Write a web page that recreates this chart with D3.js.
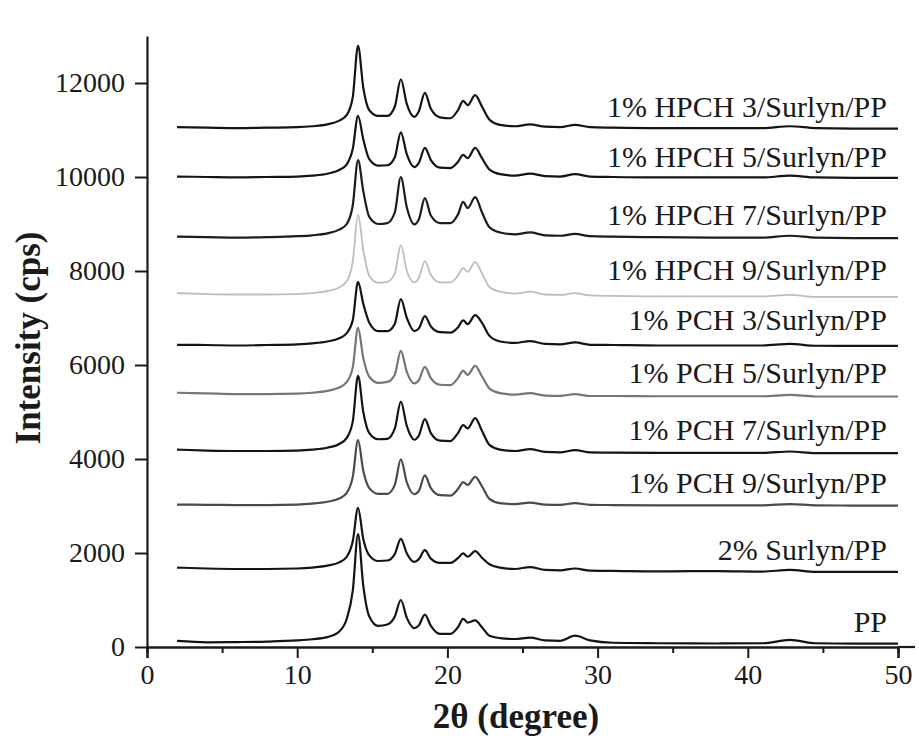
<!DOCTYPE html>
<html>
<head>
<meta charset="utf-8">
<script src="https://cdn.jsdelivr.net/npm/d3@7"></script>
<style>
  html, body { margin: 0; padding: 0; background: #fff; }
  svg { display: block; }
  text { font-family: "Liberation Serif", "Times New Roman", serif; fill: #1a1a1a; }
</style>
</head>
<body>
<svg id="chart" width="919" height="738"></svg>
<script>
// ---- data ----
const twoTheta = [2, 4, 6, 8, 10, 11, 12, 12.8, 13.3, 13.7, 14.05, 14.4, 14.8, 15.4, 16.0, 16.5, 16.9, 17.3, 17.8, 18.1, 18.5, 18.9, 19.5, 20.2, 20.7, 21.05, 21.35, 21.85, 22.3, 22.8, 23.5, 24.5, 25.5, 26.5, 27.5, 28.5, 29.5, 31, 34, 38, 41, 42.8, 44.5, 47, 50];

const seriesNames = ["1% HPCH 3/Surlyn/PP", "1% HPCH 5/Surlyn/PP", "1% HPCH 7/Surlyn/PP", "1% HPCH 9/Surlyn/PP", "1% PCH 3/Surlyn/PP", "1% PCH 5/Surlyn/PP", "1% PCH 7/Surlyn/PP", "1% PCH 9/Surlyn/PP", "2% Surlyn/PP", "PP"];

const hpch3 = [11060, 11050, 11040, 11050, 11060, 11080, 11120, 11200, 11320, 11700, 12790, 11900, 11420, 11300, 11300, 11500, 12080, 11550, 11280, 11400, 11790, 11450, 11270, 11250, 11420, 11620, 11530, 11740, 11500, 11220, 11110, 11080, 11120, 11070, 11060, 11110, 11060, 11050, 11040, 11040, 11040, 11080, 11040, 11030, 11030];
const hpch5 = [10010, 10000, 9990, 10000, 10010, 10030, 10070, 10150, 10270, 10600, 11300, 10800, 10380, 10240, 10250, 10420, 10950, 10480, 10210, 10300, 10620, 10360, 10200, 10190, 10320, 10470, 10400, 10620, 10400, 10160, 10060, 10030, 10070, 10020, 10010, 10060, 10010, 10000, 9990, 9990, 9990, 10030, 9990, 9980, 9980];
const hpch7 = [8730, 8720, 8710, 8720, 8740, 8760, 8800, 8880, 9000, 9400, 10360, 9700, 9150, 9000, 9020, 9250, 10000, 9350, 8990, 9100, 9550, 9180, 9020, 9020, 9200, 9470, 9340, 9570, 9250, 8930, 8820, 8780, 8820, 8760, 8750, 8790, 8740, 8730, 8720, 8710, 8710, 8750, 8710, 8700, 8700];
const hpch9 = [7530, 7510, 7500, 7500, 7510, 7530, 7570, 7650, 7780, 8200, 9200, 8450, 7900, 7750, 7770, 7950, 8550, 8000, 7760, 7850, 8210, 7920, 7760, 7760, 7900, 8060, 7980, 8190, 7950, 7660, 7560, 7520, 7560, 7500, 7490, 7530, 7480, 7470, 7460, 7460, 7460, 7490, 7450, 7450, 7450];
const pch3 = [6430, 6425, 6415, 6425, 6440, 6460, 6500, 6570, 6680, 6950, 7770, 7300, 6900, 6720, 6720, 6880, 7400, 7000, 6720, 6780, 7040, 6820, 6700, 6690, 6800, 6950, 6870, 7060, 6900, 6620, 6500, 6470, 6510, 6450, 6440, 6480, 6430, 6425, 6415, 6415, 6415, 6450, 6410, 6405, 6405];
const pch5 = [5410, 5395, 5380, 5380, 5390, 5410, 5450, 5520, 5640, 5950, 6790, 6150, 5750, 5620, 5640, 5800, 6300, 5850, 5610, 5680, 5960, 5720, 5580, 5570, 5720, 5880, 5790, 5980, 5760, 5500, 5400, 5370, 5400, 5350, 5345, 5380, 5340, 5340, 5335, 5335, 5335, 5365, 5330, 5330, 5330];
const pch7 = [4200, 4180, 4170, 4170, 4180, 4200, 4240, 4320, 4450, 4800, 5770, 5000, 4550, 4420, 4430, 4650, 5220, 4700, 4410, 4500, 4850, 4550, 4390, 4380, 4550, 4720, 4650, 4870, 4600, 4300, 4200, 4170, 4210, 4150, 4140, 4190, 4140, 4135, 4130, 4130, 4130, 4160, 4125, 4125, 4125];
const pch9 = [3030, 3025, 3020, 3020, 3030, 3050, 3090, 3160, 3280, 3620, 4400, 3750, 3380, 3260, 3260, 3450, 3990, 3500, 3250, 3320, 3650, 3380, 3230, 3220, 3360, 3510, 3450, 3620, 3420, 3150, 3060, 3040, 3070, 3030, 3025, 3060, 3025, 3020, 3015, 3015, 3015, 3040, 3015, 3010, 3010];
const surlyn2 = [1690, 1670, 1660, 1660, 1670, 1690, 1730, 1800, 1920, 2250, 2960, 2300, 1950, 1830, 1840, 1980, 2300, 1990, 1810, 1870, 2060, 1880, 1790, 1790, 1890, 1990, 1920, 2040, 1900, 1760, 1690, 1660, 1700, 1640, 1630, 1670, 1625, 1620, 1610, 1615, 1605, 1640, 1600, 1600, 1600];
const pp = [130, 100, 105, 115, 140, 165, 210, 330, 600, 1200, 2400, 1300, 650, 450, 480, 650, 1000, 620, 400, 460, 690, 450, 280, 280, 420, 600, 520, 565, 420, 240, 190, 170, 200, 140, 130, 240, 140, 90, 80, 75, 80, 150, 80, 70, 70];

const seriesValues = [hpch3, hpch5, hpch7, hpch9, pch3, pch5, pch7, pch9, surlyn2, pp];
const seriesColors = ["#141414", "#141414", "#1c1c1c", "#bdbdbd", "#141414", "#767676", "#141414", "#4a4a4a", "#141414", "#141414"];
const labelValues = [11277, 10213, 8979, 7809, 6745, 5617, 4404, 3277, 1851, 319];

const xTicksMajor = [0, 10, 20, 30, 40, 50];
const xTicksMinor = [5, 15, 25, 35, 45];
const yTicks = [0, 2000, 4000, 6000, 8000, 10000, 12000];

// ---- layout ----
const svg = d3.select("#chart");
const x = d3.scaleLinear().domain([0, 50]).range([147, 898]);
const y = d3.scaleLinear().domain([0, 13000]).range([647, 36]);

// series lines
const line = d3.line()
  .x(d => x(d[0]))
  .y(d => y(d[1]))
  .curve(d3.curveMonotoneX);

const g = svg.append("g");
seriesValues.forEach((vals, i) => {
  const pts = twoTheta.map((t, j) => [t, vals[j]]);
  g.append("path")
    .datum(pts)
    .attr("fill", "none")
    .attr("stroke", seriesColors[i])
    .attr("stroke-width", i === 3 ? 1.8 : 2.2)
    .attr("stroke-linejoin", "round")
    .attr("d", line);
});

// series labels
seriesNames.forEach((name, i) => {
  svg.append("text")
    .attr("x", 887)
    .attr("y", y(labelValues[i]))
    .attr("text-anchor", "end")
    .attr("font-size", 30)
    .text(name);
});

// x axis
const xAxis = svg.append("g").attr("transform", "translate(0,647)");
xAxis.call(d3.axisBottom(x).tickValues(xTicksMajor).tickSize(11).tickPadding(6).tickFormat(d3.format("d")));
xAxis.append("g").call(d3.axisBottom(x).tickValues(xTicksMinor).tickSize(6).tickFormat(""));
xAxis.selectAll(".domain").attr("stroke", "#1a1a1a").attr("stroke-width", 2.2);
xAxis.selectAll(".tick line").attr("stroke", "#1a1a1a").attr("stroke-width", 2);
xAxis.selectAll("text").attr("font-size", 28).attr("font-family", "Liberation Serif, serif").attr("fill", "#1a1a1a");
xAxis.append("line").attr("x1", x(50)).attr("x2", 915).attr("y1", 0).attr("y2", 0)
  .attr("stroke", "#1a1a1a").attr("stroke-width", 2.2);

// y axis
const yAxis = svg.append("g").attr("transform", "translate(147,0)");
yAxis.call(d3.axisLeft(y).tickValues(yTicks).tickSize(12).tickPadding(10).tickSizeOuter(0).tickFormat(d3.format("d")));
yAxis.selectAll(".domain").attr("stroke", "#1a1a1a").attr("stroke-width", 2.2);
yAxis.selectAll(".tick line").attr("stroke", "#1a1a1a").attr("stroke-width", 2);
yAxis.selectAll("text").attr("font-size", 28).attr("font-family", "Liberation Serif, serif").attr("fill", "#1a1a1a");

// axis titles
svg.append("text")
  .attr("x", 516).attr("y", 728)
  .attr("text-anchor", "middle")
  .attr("font-size", 35)
  .attr("font-weight", "bold")
  .text("2θ (degree)");

svg.append("text")
  .attr("transform", "translate(40,338) rotate(-90)")
  .attr("text-anchor", "middle")
  .attr("font-size", 35)
  .attr("font-weight", "bold")
  .text("Intensity (cps)");
</script>
</body>
</html>
